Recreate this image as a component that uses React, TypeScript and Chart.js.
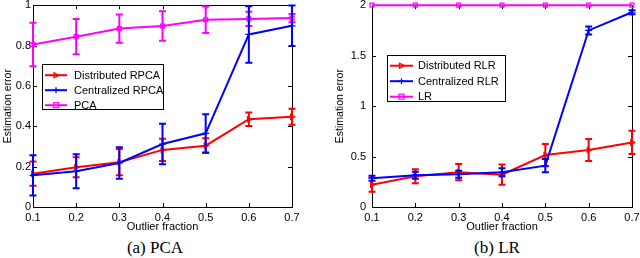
import React, { useEffect, useRef } from "react";
import { Chart, registerables } from "chart.js";

Chart.register(...registerables);

// ---------- data ----------
const outlierFractions = [0.1, 0.2, 0.3, 0.4, 0.5, 0.6, 0.7];
const xTickValues = [0.1, 0.2, 0.3, 0.4, 0.5, 0.6, 0.7];

// (a) PCA
const pcaYTicks = [0, 0.2, 0.4, 0.6, 0.8, 1];
const distRPCA = [0.165, 0.197, 0.222, 0.283, 0.304, 0.435, 0.447];
const distRPCAErr = [0.06, 0.05, 0.065, 0.055, 0.037, 0.033, 0.04];
const centRPCA = [0.157, 0.177, 0.218, 0.312, 0.365, 0.855, 0.898];
const centRPCAErr = [0.1, 0.084, 0.078, 0.1, 0.095, 0.14, 0.1];
const pcaErrorValues = [0.805, 0.844, 0.884, 0.897, 0.928, 0.932, 0.936];
const pcaErrorErr = [0.108, 0.087, 0.07, 0.073, 0.066, 0.035, 0.02];

// (b) LR
const lrYTicks = [0, 0.5, 1, 1.5, 2];
const distRLR = [0.22, 0.305, 0.345, 0.32, 0.515, 0.565, 0.64];
const distRLRErr = [0.07, 0.07, 0.08, 0.1, 0.11, 0.11, 0.115];
const centRLR = [0.285, 0.315, 0.325, 0.345, 0.41, 1.75, 1.93];
const centRLRErr = [0.025, 0.035, 0.035, 0.04, 0.065, 0.04, 0.02];
const lrValues = [2, 2, 2, 2, 2, 2, 2];
const lrErr = [0, 0, 0, 0, 0, 0, 0];

const RED = "#ff0000";
const BLUE = "#0000ff";
const MAGENTA = "#ff00ff";
const FONT = "'Liberation Sans', Arial, Helvetica, sans-serif";

type Series = {
  label: string;
  values: number[];
  errors: number[];
  color: string;
  marker: "tri" | "plus" | "square";
  order: number;
};

// ---------- drawing helpers ----------
function drawMarker(ctx: CanvasRenderingContext2D, kind: string, x: number, y: number, color: string) {
  ctx.save();
  ctx.strokeStyle = color;
  ctx.fillStyle = color;
  ctx.lineWidth = 1.2;
  if (kind === "tri") {
    ctx.beginPath();
    ctx.moveTo(x + 3, y);
    ctx.lineTo(x - 2, y - 2.5);
    ctx.lineTo(x - 2, y + 2.5);
    ctx.closePath();
    ctx.stroke();
  } else if (kind === "plus") {
    ctx.beginPath();
    ctx.moveTo(x - 3, y);
    ctx.lineTo(x + 3, y);
    ctx.moveTo(x, y - 3);
    ctx.lineTo(x, y + 3);
    ctx.stroke();
  } else {
    ctx.strokeRect(x - 2.5, y - 2.5, 5, 5);
  }
  ctx.restore();
}

const framePlugin = {
  id: "matlabFrame",
  beforeDatasetsDraw(chart: any) {
    const { ctx, chartArea } = chart;
    const { left, right, top, bottom } = chartArea;
    ctx.save();
    ctx.strokeStyle = "#000";
    ctx.lineWidth = 1;
    ctx.strokeRect(Math.round(left) + 0.5, Math.round(top) + 0.5, Math.round(right - left), Math.round(bottom - top));
    const tl = 4;
    const xs = chart.scales.x;
    const ys = chart.scales.y;
    ctx.beginPath();
    xs.ticks.forEach((t: any) => {
      const px = Math.round(xs.getPixelForValue(t.value)) + 0.5;
      ctx.moveTo(px, bottom);
      ctx.lineTo(px, bottom - tl);
      ctx.moveTo(px, top);
      ctx.lineTo(px, top + tl);
    });
    ys.ticks.forEach((t: any) => {
      const py = Math.round(ys.getPixelForValue(t.value)) + 0.5;
      ctx.moveTo(left, py);
      ctx.lineTo(left + tl, py);
      ctx.moveTo(right, py);
      ctx.lineTo(right - tl, py);
    });
    ctx.stroke();
    ctx.restore();
  },
};

const errorBarPlugin = {
  id: "errorBars",
  afterDatasetDraw(chart: any, args: any) {
    const ds = chart.data.datasets[args.index];
    const errs: number[] = ds.errors || [];
    const meta = args.meta;
    const ys = chart.scales.y;
    const ctx = chart.ctx;
    ctx.save();
    ctx.strokeStyle = ds.borderColor;
    ctx.lineWidth = 2;
    ctx.beginPath();
    meta.data.forEach((pt: any, i: number) => {
      const e = errs[i];
      if (!e) return;
      const v = ds.data[i].y;
      const y1 = ys.getPixelForValue(v + e);
      const y2 = ys.getPixelForValue(v - e);
      const x = pt.x;
      ctx.moveTo(x, y1);
      ctx.lineTo(x, y2);
      ctx.moveTo(x - 3.5, y1);
      ctx.lineTo(x + 3.5, y1);
      ctx.moveTo(x - 3.5, y2);
      ctx.lineTo(x + 3.5, y2);
    });
    ctx.stroke();
    ctx.restore();
  },
};

const legendPlugin = {
  id: "boxLegend",
  afterDraw(chart: any) {
    const o = chart.options.plugins.boxLegend;
    if (!o) return;
    const { ctx, chartArea } = chart;
    const bx = chartArea.left + o.dx;
    const by = chartArea.top + o.dy;
    ctx.save();
    ctx.fillStyle = "#fff";
    ctx.fillRect(bx, by, o.w, o.h);
    ctx.strokeStyle = "#000";
    ctx.lineWidth = 1;
    ctx.strokeRect(Math.round(bx) + 0.5, Math.round(by) + 0.5, o.w, o.h);
    const series: Series[] = o.series;
    series.forEach((s, i) => {
      const y = by + o.row0 + i * o.rowGap;
      ctx.strokeStyle = s.color;
      ctx.lineWidth = 2;
      ctx.beginPath();
      ctx.moveTo(bx + o.line0, y);
      ctx.lineTo(bx + o.line1, y);
      ctx.stroke();
      drawMarker(ctx, s.marker, bx + (o.line0 + o.line1) / 2, y, s.color);
      ctx.fillStyle = "#000";
      ctx.font = "11px " + FONT;
      ctx.textBaseline = "middle";
      ctx.textAlign = "left";
      ctx.fillText(s.label, bx + o.textX, y + 0.5);
    });
    ctx.restore();
  },
};

const pointStyleFor: Record<string, any> = { tri: "triangle", plus: "cross", square: "rect" };

function makeConfig(
  series: Series[],
  yTicks: number[],
  yMax: number,
  padRight: number,
  yWidth: number,
  yTitlePad: number,
  yTickPad: number,
  legend: any
): any {
  return {
    type: "line",
    data: {
      datasets: series.map((s) => ({
        label: s.label,
        data: outlierFractions.map((x, i) => ({ x, y: s.values[i] })),
        errors: s.errors,
        borderColor: s.color,
        backgroundColor: s.color,
        borderWidth: 2,
        pointStyle: pointStyleFor[s.marker],
        pointRotation: s.marker === "tri" ? 90 : 0,
        pointRadius: s.marker === "plus" ? 3.5 : 2.8,
        pointBorderWidth: 1.2,
        pointBackgroundColor: "rgba(0,0,0,0)",
        pointBorderColor: s.color,
        tension: 0,
        clip: 8,
        order: s.order,
      })),
    },
    options: {
      responsive: false,
      animation: false,
      events: [],
      layout: { padding: { top: 4, right: padRight, left: 0, bottom: 0 } },
      plugins: {
        legend: { display: false },
        tooltip: { enabled: false },
        boxLegend: { ...legend, series },
      },
      scales: {
        x: {
          type: "linear",
          min: 0.1,
          max: 0.7,
          afterBuildTicks: (s: any) => {
            s.ticks = xTickValues.map((v) => ({ value: v }));
          },
          afterFit: (s: any) => {
            s.height = 30;
            s.paddingLeft = 0;
            s.paddingRight = 0;
          },
          grid: { display: false, drawTicks: false },
          border: { display: false },
          ticks: {
            autoSkip: false,
            maxRotation: 0,
            padding: 4,
            color: "#000",
            font: { size: 11, family: FONT },
            callback: (v: number) => v.toFixed(1),
          },
          title: {
            display: true,
            text: "Outlier fraction",
            color: "#000",
            font: { size: 11, family: FONT },
            padding: { top: 0, bottom: 3 },
          },
        },
        y: {
          type: "linear",
          min: 0,
          max: yMax,
          afterBuildTicks: (s: any) => {
            s.ticks = yTicks.map((v) => ({ value: v }));
          },
          afterFit: (s: any) => {
            s.width = yWidth;
            s.paddingTop = 0;
            s.paddingBottom = 0;
          },
          grid: { display: false, drawTicks: false },
          border: { display: false },
          ticks: {
            autoSkip: false,
            padding: yTickPad,
            color: "#000",
            font: { size: 11, family: FONT },
            callback: (v: number) => String(v),
          },
          title: {
            display: true,
            text: "Estimation error",
            color: "#000",
            font: { size: 10.5, family: FONT },
            padding: { top: yTitlePad, bottom: 0 },
          },
        },
      },
    },
    plugins: [framePlugin, errorBarPlugin, legendPlugin],
  };
}

function Panel(props: { config: any; left: number }) {
  const ref = useRef<HTMLCanvasElement | null>(null);
  useEffect(() => {
    if (!ref.current) return;
    const chart = new Chart(ref.current, props.config);
    return () => chart.destroy();
  }, []);
  return (
    <canvas
      ref={ref}
      width={320}
      height={237}
      style={{ position: "absolute", left: props.left, top: 0, width: 320, height: 237 }}
    />
  );
}

const pcaSeries: Series[] = [
  { label: "Distributed RPCA", values: distRPCA, errors: distRPCAErr, color: RED, marker: "tri", order: 1 },
  { label: "Centralized RPCA", values: centRPCA, errors: centRPCAErr, color: BLUE, marker: "plus", order: 0 },
  { label: "PCA", values: pcaErrorValues, errors: pcaErrorErr, color: MAGENTA, marker: "square", order: 2 },
];

const lrSeries: Series[] = [
  { label: "Distributed RLR", values: distRLR, errors: distRLRErr, color: RED, marker: "tri", order: 1 },
  { label: "Centralized RLR", values: centRLR, errors: centRLRErr, color: BLUE, marker: "plus", order: 0 },
  { label: "LR", values: lrValues, errors: lrErr, color: MAGENTA, marker: "square", order: 2 },
];

const pcaConfig = makeConfig(pcaSeries, pcaYTicks, 1, 28, 33, 2, 2, {
  dx: 9, dy: 59, w: 121, h: 45, row0: 11, rowGap: 15, line0: 3, line1: 25, textX: 32,
});
const lrConfig = makeConfig(lrSeries, lrYTicks, 2, 8, 52, 14, 6, {
  dx: 15, dy: 50, w: 118, h: 46, row0: 10.5, rowGap: 15.5, line0: 3, line1: 26, textX: 31,
});

const captionStyle: React.CSSProperties = {
  position: "absolute",
  top: 238,
  height: 20,
  lineHeight: "20px",
  width: 200,
  textAlign: "center",
  fontFamily: "'Liberation Serif', 'Times New Roman', serif",
  fontSize: 17,
  color: "#000",
};

export default function App() {
  return (
    <div style={{ position: "absolute", left: 0, top: 0, width: 640, height: 258, background: "#fff", overflow: "hidden" }}>
      <Panel config={pcaConfig} left={0} />
      <Panel config={lrConfig} left={320} />
      <div style={{ ...captionStyle, left: 155 - 100 }}>(a) PCA</div>
      <div style={{ ...captionStyle, left: 497 - 100 }}>(b) LR</div>
    </div>
  );
}
